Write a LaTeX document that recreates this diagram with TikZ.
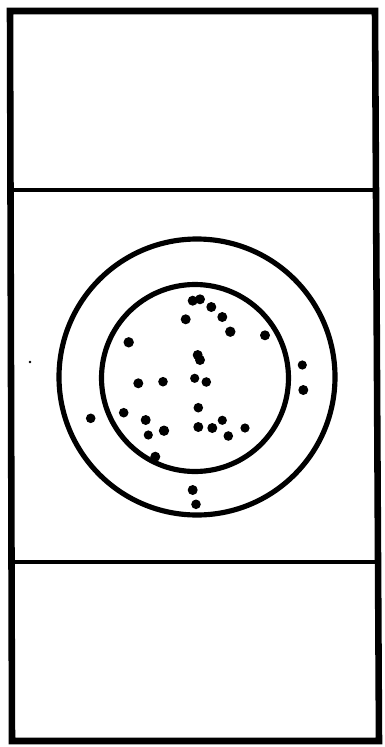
\documentclass[tikz,border=0pt]{standalone}
\usepackage{xcolor}

\begin{document}
\begin{tikzpicture}[x=0.03cm,y=-0.03cm]
  \useasboundingbox (0,0) rectangle (384,747);
  \draw[line width=5.6pt] (10,11) -- (375,11) -- (379,741) -- (12,741) -- cycle;
  \draw[line width=3.8pt] (10,190) -- (377,190);
  \draw[line width=3.8pt] (11,562) -- (378,562);
  \draw[line width=4.4pt] (197,377) circle (138);
  \draw[line width=4.4pt] (195,378) circle (93.5);
  \fill (192.7,300.7) circle (5) (200,299.3) circle (5) (211.3,307) circle (5)
        (222.3,317) circle (5) (185.7,319.3) circle (5) (230.3,331.7) circle (5.2)
        (265,335.3) circle (5) (128.7,342.3) circle (5.2) (197.7,355) circle (5)
        (200,360) circle (5) (302.3,365) circle (4.6) (303.3,390) circle (5)
        (138.3,383.3) circle (5) (163,381.7) circle (4.8) (194.7,378.3) circle (4.6)
        (206.3,382) circle (4.8) (198.3,407.7) circle (4.8) (90.7,418.3) circle (4.8)
        (123.7,412.7) circle (4.8) (145.7,420) circle (5) (164,430.7) circle (5.2)
        (148.3,435) circle (4.6) (198.3,427) circle (5) (212.3,428) circle (5)
        (222.3,420.3) circle (4.6) (228.3,436) circle (4.8) (245,428) circle (4.6)
        (155.3,456.7) circle (5) (192.7,490) circle (5) (196,504.3) circle (4.8);
  \fill (30,362) circle (1.4);
\end{tikzpicture}
\end{document}
